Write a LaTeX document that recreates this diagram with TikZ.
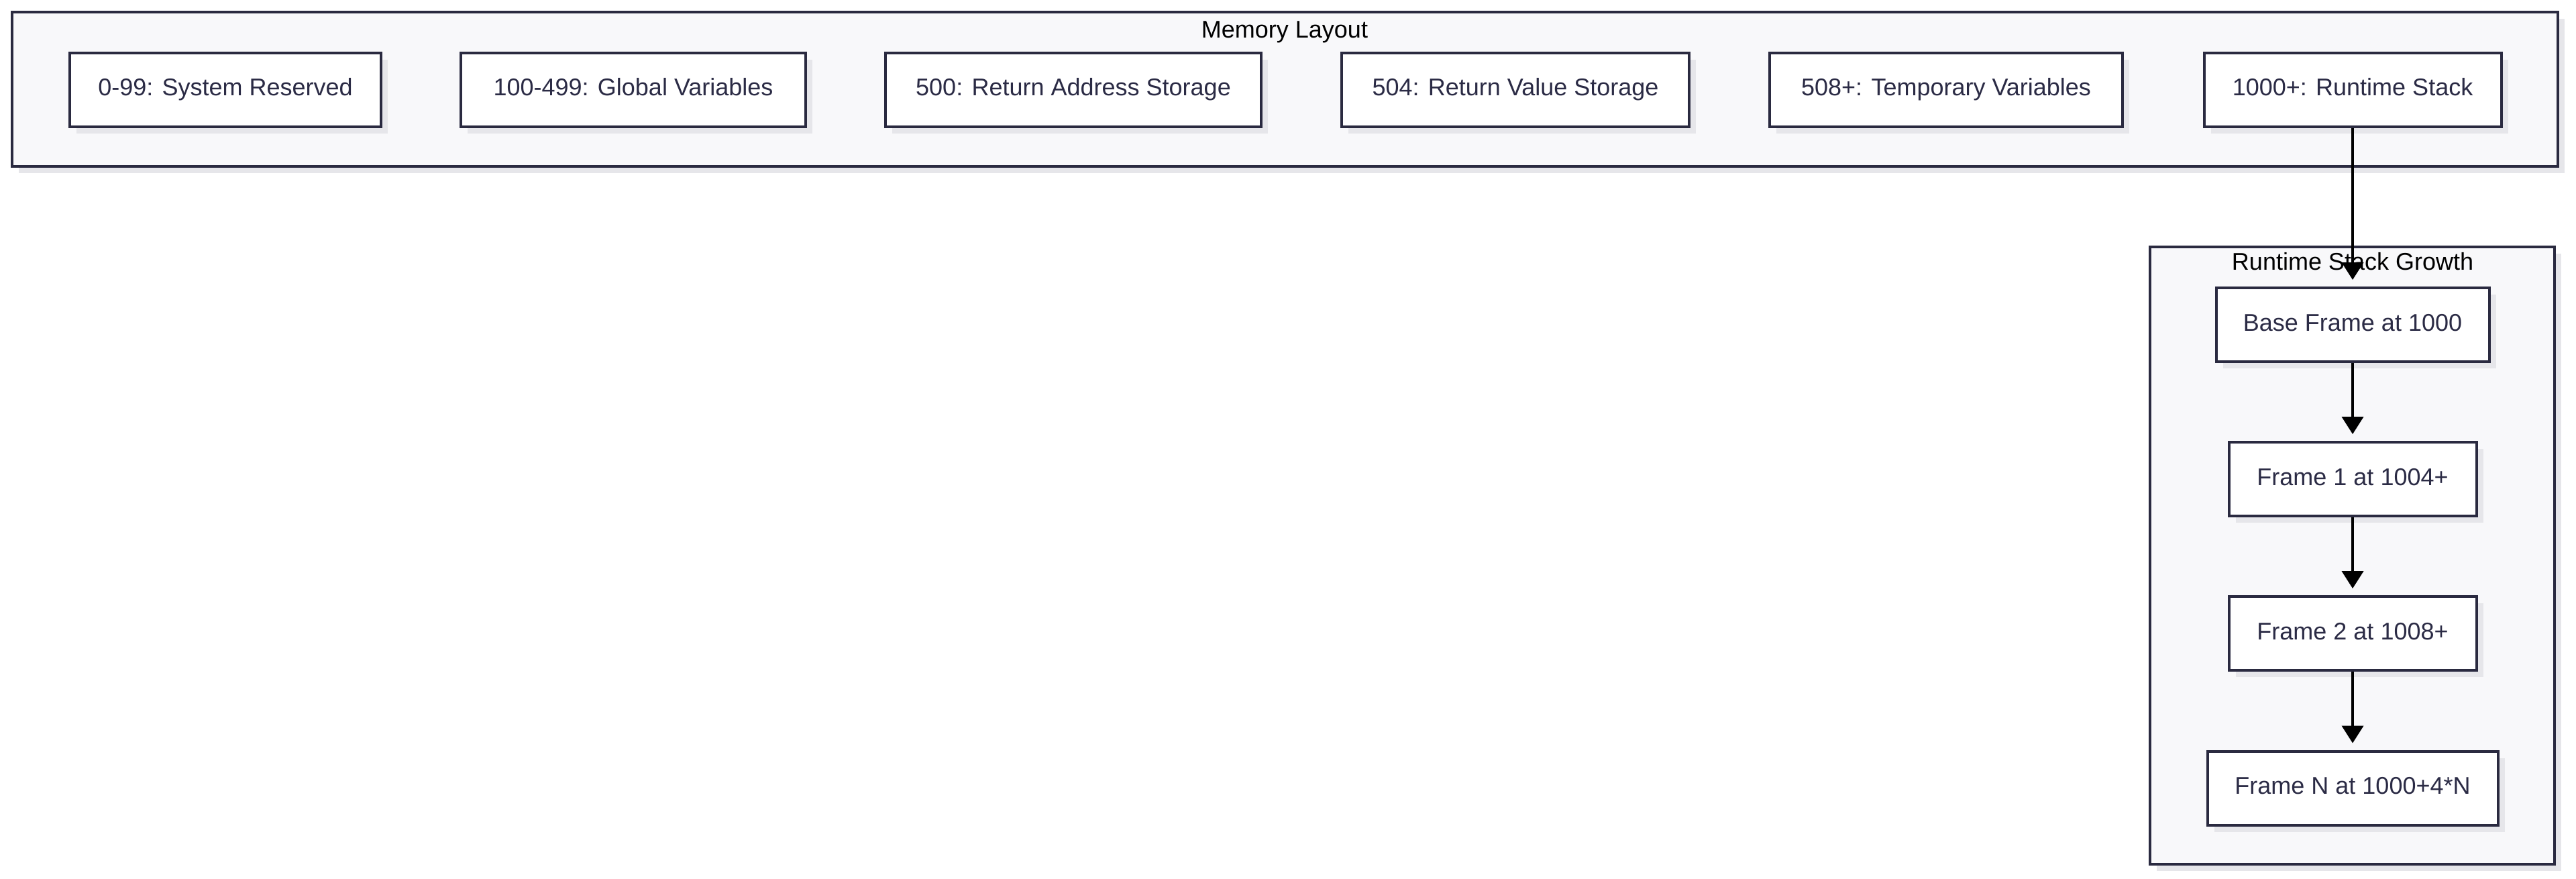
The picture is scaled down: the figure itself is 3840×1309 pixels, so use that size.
\documentclass[tikz,border=0pt]{standalone}
\usepackage{fontspec}
\setmainfont{Liberation Sans}
\usetikzlibrary{arrows.meta}
\definecolor{edgec}{HTML}{2A2A40}
\definecolor{txtc}{HTML}{2B2B45}
\definecolor{clfill}{HTML}{F8F8FA}
\definecolor{shad}{HTML}{E6E6EA}
\tikzset{
  x=0.25pt, y=-0.25pt,
  memnode/.style={draw=edgec, line width=1pt, fill=white, text=txtc, font=\fontsize{9}{11}\selectfont,
    minimum height=27.5pt, inner sep=0pt, text height=6.6pt, text depth=1.9pt, anchor=center},
  cluster/.style={draw=edgec, line width=1pt, fill=clfill},
  cltitle/.style={text=black, font=\fontsize{9}{11}\selectfont, inner sep=0pt, text height=6.6pt, text depth=1.9pt},
  flow/.style={draw=black, line width=1pt, -{Triangle[width=8pt,length=6.5pt]}, shorten >=2.5pt},
}
\begin{document}
\begin{tikzpicture}
\useasboundingbox (0,0) rectangle (3840,1309);
\fill[white] (0,0) rectangle (3840,1309);
% clusters with shadows
\fill[shad] (28,28) rectangle (3823,258);
\draw[cluster] (18,18) rectangle (3813,248);
\fill[shad] (3215,378) rectangle (3818,1298);
\draw[cluster] (3205,368) rectangle (3808,1288);
\node[cltitle] (t1) at (1915,47) {Memory Layout};
\node[cltitle] (t2) at (3507,393) {Runtime Stack Growth};
% shadows of nodes
\foreach \cx/\w/\cy in {336/464/133.5, 944/514/133.5, 1600/560/133.5, 2259/518/133.5, 2901/526/133.5, 3507/443/133.5,
  3507/407/484, 3507/369/714, 3507/369/944, 3507/433/1174.5}{
  \fill[shad] ({\cx-\w/2+10},{\cy-55+10}) rectangle ({\cx+\w/2+10},{\cy+55+10});
}
% nodes
\node[memnode, minimum width=116pt] (a) at (336,133.5) {0-99: System Reserved};
\node[memnode, minimum width=128.5pt] (b) at (944,133.5) {100-499: Global Variables};
\node[memnode, minimum width=140pt] (c) at (1600,133.5) {500: Return Address Storage};
\node[memnode, minimum width=129.5pt] (d) at (2259,133.5) {504: Return Value Storage};
\node[memnode, minimum width=131.5pt] (e) at (2901,133.5) {508+: Temporary Variables};
\node[memnode, minimum width=110.75pt] (f) at (3507,133.5) {1000+: Runtime Stack};
\node[memnode, minimum width=101.75pt] (base) at (3507,484) {Base Frame at 1000};
\node[memnode, minimum width=92.25pt] (f1) at (3507,714) {Frame 1 at 1004+};
\node[memnode, minimum width=92.25pt] (f2) at (3507,944) {Frame 2 at 1008+};
\node[memnode, minimum width=108.25pt] (fn) at (3507,1174.5) {Frame N at 1000+4*N};
% connectors
\draw[flow] (f) -- (base);
\draw[flow] (base) -- (f1);
\draw[flow] (f1) -- (f2);
\draw[flow] (f2) -- (fn);
\end{tikzpicture}
\end{document}
